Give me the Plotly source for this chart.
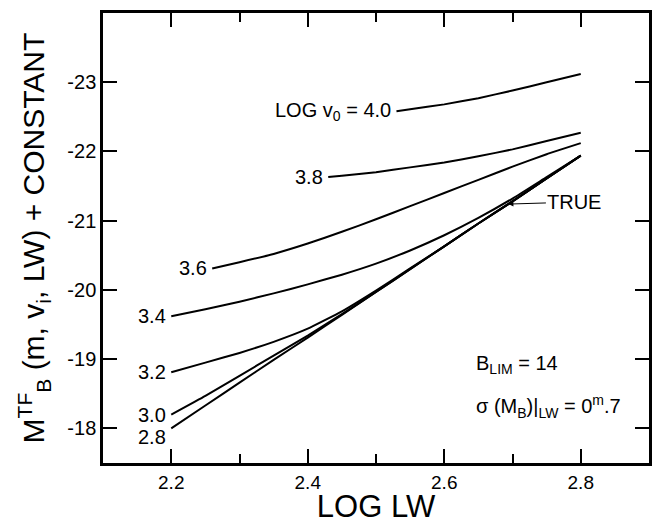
import plotly.graph_objects as go

# ---- data ----
lw_full = [2.2, 2.25, 2.3, 2.35, 2.4, 2.45, 2.5, 2.55, 2.6, 2.65, 2.7, 2.75, 2.8]
m_28 = [-18.00, -18.33, -18.66, -18.99, -19.31, -19.64, -19.97, -20.30, -20.63, -20.96, -21.28, -21.61, -21.94]
m_30 = [-18.20, -18.47, -18.76, -19.05, -19.34, -19.65, -19.97, -20.30, -20.63, -20.96, -21.28, -21.61, -21.94]
m_32 = [-18.81, -18.95, -19.09, -19.25, -19.44, -19.69, -19.99, -20.31, -20.63, -20.96, -21.28, -21.61, -21.94]
m_34 = [-19.62, -19.72, -19.83, -19.95, -20.08, -20.22, -20.38, -20.57, -20.79, -21.04, -21.32, -21.63, -21.94]
lw_36 = [2.26, 2.3, 2.35, 2.4, 2.45, 2.5, 2.55, 2.6, 2.65, 2.7, 2.75, 2.8]
m_36 = [-20.31, -20.40, -20.52, -20.67, -20.84, -21.02, -21.21, -21.40, -21.59, -21.78, -21.96, -22.12]
lw_38 = [2.43, 2.45, 2.5, 2.55, 2.6, 2.65, 2.7, 2.75, 2.8]
m_38 = [-21.63, -21.65, -21.70, -21.77, -21.84, -21.93, -22.03, -22.15, -22.27]
lw_40 = [2.53, 2.55, 2.6, 2.65, 2.7, 2.75, 2.8]
m_40 = [-22.58, -22.61, -22.68, -22.77, -22.88, -23.00, -23.12]

series = [
    ("2.8", lw_full, m_28),
    ("3.0", lw_full, m_30),
    ("3.2", lw_full, m_32),
    ("3.4", lw_full, m_34),
    ("3.6", lw_36, m_36),
    ("3.8", lw_38, m_38),
    ("LOG v<sub>0</sub> = 4.0", lw_40, m_40),
]
label_yshift = {"2.8": -9}

x_tickvals = [2.2, 2.4, 2.6, 2.8]
x_ticktext = ["2.2", "2.4", "2.6", "2.8"]
y_tickvals = [-18, -19, -20, -21, -22, -23]
y_ticktext = ["-18", "-19", "-20", "-21", "-22", "-23"]

FONT = "Liberation Sans, Arial, Helvetica, sans-serif"

fig = go.Figure()
annotations = []
for name, xs, ys in series:
    fig.add_trace(go.Scatter(x=xs, y=ys, mode="lines", name=name,
                             line=dict(color="black", width=2, shape="spline", smoothing=0.4),
                             showlegend=False, hoverinfo="skip"))
    annotations.append(dict(x=xs[0], y=ys[0], xref="x", yref="y", text=name,
                            showarrow=False, xanchor="right", yanchor="middle",
                            xshift=-3, yshift=label_yshift.get(name, 0),
                            font=dict(size=20, color="black", family=FONT)))

# TRUE label with arrow pointing to the true relation
annotations.append(dict(x=2.694, y=-21.24, xref="x", yref="y", text="TRUE",
                        showarrow=True, arrowhead=2, arrowsize=1, arrowwidth=1,
                        arrowcolor="black", ax=66, ay=-2, axref="pixel", ayref="pixel",
                        font=dict(size=20, color="black", family=FONT)))
annotations.append(dict(x=2.644, y=-18.93, xref="x", yref="y",
                        text="B<sub>LIM</sub> = 14", showarrow=False,
                        xanchor="left", yanchor="middle",
                        font=dict(size=20, color="black", family=FONT)))
annotations.append(dict(x=2.644, y=-18.32, xref="x", yref="y",
                        text="σ (M<sub>B</sub>)|<sub>LW</sub> = 0<sup>m</sup>.7", showarrow=False,
                        xanchor="left", yanchor="middle",
                        font=dict(size=20, color="black", family=FONT)))

fig.update_layout(
    width=655, height=524,
    margin=dict(l=103, r=3, t=13, b=60),
    paper_bgcolor="white", plot_bgcolor="white",
    font=dict(family=FONT, color="black", size=20),
    annotations=annotations,
    xaxis=dict(range=[2.1, 2.9], tickvals=x_tickvals, ticktext=x_ticktext,
               ticks="inside", ticklen=14, tickwidth=1.5, tickcolor="black",
               minor=dict(dtick=0.1, tick0=2.1, ticks="inside", ticklen=9, tickwidth=1.5, tickcolor="black"),
               showline=True, linecolor="black", linewidth=2.5, mirror="allticks",
               showgrid=False, zeroline=False,
               tickfont=dict(size=19, family=FONT),
               title=dict(text="LOG LW", font=dict(size=31, family=FONT), standoff=7)),
    yaxis=dict(range=[-17.5, -24], tickvals=y_tickvals, ticktext=y_ticktext,
               ticks="inside", ticklen=14, tickwidth=1.5, tickcolor="black",
               showline=True, linecolor="black", linewidth=2.5, mirror="allticks",
               showgrid=False, zeroline=False,
               tickfont=dict(size=20, family=FONT),
               title=dict(text="M<sup>TF</sup><sub>B</sub> (m, v<sub>i</sub>, LW) + CONSTANT",
                          font=dict(size=30, family=FONT), standoff=14)),
)

fig.write_html("out.html")
